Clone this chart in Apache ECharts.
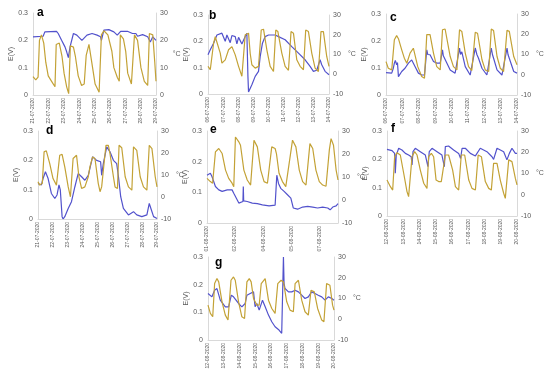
<!DOCTYPE html>
<html><head><meta charset="utf-8">
<script src="https://cdn.jsdelivr.net/npm/echarts@6/dist/echarts.min.js"></script>
<style>html,body{margin:0;padding:0;background:#fff}#c{width:550px;height:372px}</style>
</head><body><div id="c"></div>
<script>
// ---- tick labels ----
const aTicks = ['21-07-2020','22-07-2020','23-07-2020','24-07-2020','25-07-2020','26-07-2020','27-07-2020','28-07-2020','29-07-2020'];
const bTicks = ['06-07-2020','07-07-2020','08-07-2020','09-07-2020','10-07-2020','11-07-2020','12-07-2020','13-07-2020','14-07-2020'];
const cTicks = bTicks.slice();
const dTicks = aTicks.slice();
const eTicks = ['01-08-2020','02-08-2020','04-08-2020','05-08-2020','07-08-2020'];
const fTicks = ['12-08-2020','13-08-2020','14-08-2020','15-08-2020','16-08-2020','17-08-2020','18-08-2020','19-08-2020','20-08-2020'];
const gTicks = fTicks.slice();

// ---- series: [day, value] ----
const aVolt = [[0,0.213],[0.66,0.215],[0.77,0.231],[1.53,0.233],[1.64,0.225],[1.86,0.200],[2.08,0.176],[2.19,0.158],[2.30,0.137],[2.41,0.176],[2.63,0.225],[2.85,0.219],[3.18,0.200],[3.51,0.219],[3.84,0.225],[4.17,0.219],[4.39,0.213],[4.45,0.200],[4.61,0.237],[4.93,0.239],[5.26,0.231],[5.48,0.219],[5.59,0.219],[5.70,0.233],[6.14,0.233],[6.47,0.225],[6.69,0.225],[6.80,0.215],[7.13,0.221],[7.46,0.213],[7.63,0.194],[7.79,0.213],[8,0.200]];
const aTemp = [[0,6.7],[0.18,5.5],[0.33,6.5],[0.42,20],[0.55,22],[0.70,19],[0.83,12],[0.99,7],[1.21,5],[1.43,3],[1.51,18.5],[1.71,19],[1.89,14],[2.02,8],[2.19,3],[2.32,0.5],[2.43,18],[2.63,17.5],[2.76,14],[2.94,7],[3.16,3.5],[3.33,4],[3.46,14.5],[3.64,18.5],[3.82,12],[4.04,4],[4.30,1],[4.45,22],[4.61,23.5],[4.87,22],[5.13,16],[5.26,10],[5.48,6.5],[5.61,5],[5.68,22],[5.88,20.5],[6.03,16],[6.16,8],[6.40,4],[6.51,3.5],[6.60,22],[6.80,20],[7.02,10],[7.24,5],[7.46,3.5],[7.57,22.5],[7.79,22],[7.92,12],[8,5]];

const bVolt = [[0,0.149],[0.15,0.168],[0.37,0.193],[0.59,0.224],[0.92,0.231],[1.14,0.200],[1.25,0.224],[1.47,0.195],[1.58,0.222],[1.80,0.218],[1.91,0.190],[2.02,0.215],[2.13,0.212],[2.24,0.190],[2.46,0.218],[2.57,0.231],[2.64,0.067],[2.68,0.008],[2.90,0.035],[3.12,0.067],[3.34,0.086],[3.45,0.142],[3.60,0.193],[3.78,0.218],[4.0,0.224],[4.44,0.224],[4.66,0.218],[5.10,0.206],[5.54,0.180],[5.98,0.155],[6.42,0.130],[6.75,0.105],[6.97,0.086],[7.19,0.090],[7.41,0.130],[7.52,0.111],[7.74,0.086],[8,0.073]];
const bTemp = [[0,4],[0.15,2.3],[0.26,1.4],[0.37,15.7],[0.48,19],[0.59,20],[0.81,10.7],[0.92,5.6],[1.14,7.3],[1.36,12.4],[1.58,14],[1.80,9.8],[2.02,4],[2.24,-1],[2.35,-1.4],[2.46,20],[2.68,20.8],[2.79,10.5],[2.90,4.8],[3.12,3.1],[3.34,4],[3.52,22.4],[3.67,22.8],[3.89,12.4],[4.11,4],[4.33,1.4],[4.48,22.4],[4.62,21.6],[4.88,10.7],[5.10,4],[5.32,2],[5.49,21.6],[5.65,20.8],[5.87,7.3],[6.09,4],[6.31,2.3],[6.46,22.4],[6.64,21.6],[6.86,10.7],[7.08,3.1],[7.30,1.4],[7.47,21.6],[7.63,21.6],[7.85,9],[8,4]];

const cVolt = [[0,0.083],[0.35,0.081],[0.45,0.100],[0.51,0.118],[0.57,0.128],[0.65,0.112],[0.70,0.120],[0.76,0.068],[0.96,0.087],[1.16,0.099],[1.37,0.118],[1.57,0.130],[1.78,0.105],[1.98,0.081],[2.18,0.074],[2.35,0.074],[2.49,0.167],[2.55,0.150],[2.69,0.149],[2.90,0.124],[3.10,0.118],[3.31,0.118],[3.45,0.167],[3.50,0.145],[3.61,0.143],[3.92,0.093],[4.22,0.081],[4.49,0.174],[4.55,0.150],[4.63,0.160],[4.84,0.105],[5.14,0.074],[5.45,0.174],[5.55,0.150],[5.65,0.136],[5.86,0.099],[6.16,0.074],[6.43,0.174],[6.50,0.150],[6.57,0.136],[6.78,0.093],[7.08,0.074],[7.39,0.174],[7.45,0.150],[7.53,0.143],[7.80,0.087],[8,0.081]];
const cTemp = [[0,6.5],[0.14,3.2],[0.35,2.4],[0.51,17.3],[0.65,19.3],[0.76,17.8],[0.96,12.3],[1.12,8.2],[1.27,5.7],[1.47,10.7],[1.67,13.1],[1.78,12.3],[1.94,4],[2.18,-0.9],[2.35,-1.7],[2.49,19.8],[2.69,19.8],[2.90,10.7],[3.10,4],[3.31,2.4],[3.45,22.2],[3.61,22.6],[3.92,9],[4.12,4],[4.33,2.4],[4.49,22.2],[4.63,21.4],[4.84,10.7],[5.04,4],[5.24,2.1],[5.45,20.9],[5.59,20.5],[5.86,7.4],[6.06,2.4],[6.27,1.6],[6.43,22.6],[6.57,21.8],[6.78,9],[6.98,3.2],[7.18,1.6],[7.39,21.9],[7.53,21.4],[7.80,9],[8,4.9]];

const dVolt = [[0,0.121],[0.23,0.116],[0.34,0.138],[0.50,0.161],[0.68,0.138],[0.90,0.087],[1.13,0.070],[1.28,0.082],[1.41,0.116],[1.50,0.099],[1.62,0.008],[1.69,0.0],[1.80,0.008],[2.03,0.036],[2.25,0.059],[2.48,0.110],[2.70,0.155],[2.93,0.144],[3.15,0.132],[3.38,0.149],[3.67,0.212],[3.94,0.200],[4.21,0.195],[4.28,0.149],[4.39,0.189],[4.62,0.246],[4.84,0.229],[5.07,0.200],[5.29,0.189],[5.41,0.144],[5.56,0.076],[5.74,0.036],[6.08,0.014],[6.42,0.025],[6.64,0.014],[6.98,0.008],[7.32,0.014],[7.48,0.053],[7.59,0.036],[7.77,0.008],[8,0.002]];
const dTemp = [[0,6.9],[0.11,5.4],[0.29,6.2],[0.41,20.5],[0.56,21],[0.79,15.2],[1.01,8.4],[1.24,5.4],[1.35,6.2],[1.46,19],[1.62,19.4],[1.80,13.7],[2.03,4.6],[2.18,0.1],[2.36,17.5],[2.59,19],[2.75,9.2],[2.93,3.9],[3.15,4.6],[3.38,9.2],[3.49,13.7],[3.67,18.2],[3.83,17.5],[4.05,6.2],[4.17,2.4],[4.28,4.6],[4.44,15.2],[4.57,23.5],[4.73,23.5],[4.84,19.7],[5.07,9.2],[5.18,4.6],[5.34,3.9],[5.45,23.5],[5.63,22.4],[5.86,9.2],[6.08,4.6],[6.31,3.1],[6.42,22.8],[6.64,21.2],[6.87,9.2],[7.09,4.6],[7.32,3.1],[7.48,23.5],[7.66,22],[7.88,9.2],[8,4.6]];

const eVolt = [[0,0.156],[0.18,0.162],[0.27,0.151],[0.45,0.119],[0.63,0.108],[0.81,0.103],[1.08,0.108],[1.34,0.108],[1.43,0.097],[1.61,0.076],[1.70,0.065],[1.79,0.070],[1.92,0.070],[1.94,0.119],[1.96,0.072],[2.15,0.070],[2.42,0.065],[2.69,0.063],[2.96,0.059],[3.32,0.056],[3.64,0.058],[3.71,0.058],[3.73,0.156],[3.82,0.129],[3.94,0.113],[4.12,0.103],[4.30,0.092],[4.48,0.081],[4.61,0.049],[4.84,0.045],[5.11,0.052],[5.38,0.054],[5.65,0.052],[5.91,0.049],[6.18,0.052],[6.45,0.049],[6.58,0.043],[6.72,0.052],[6.90,0.056],[7,0.063]];
const eTemp = [[0,9.4],[0.18,8],[0.30,7.3],[0.45,20.9],[0.63,22.4],[0.81,20.2],[0.99,13],[1.16,9.4],[1.34,7.3],[1.43,5.8],[1.52,27.4],[1.70,25.3],[1.79,23.8],[1.97,13],[2.15,8.7],[2.33,6.5],[2.51,26],[2.69,23.1],[2.87,13],[3.05,8],[3.23,7.3],[3.46,23.1],[3.64,22.4],[3.71,20.2],[3.85,11.6],[4.03,8],[4.21,5.8],[4.57,26],[4.75,23.1],[4.93,13],[5.11,8],[5.29,6.5],[5.50,24.5],[5.65,22.4],[5.82,13],[6.00,8],[6.18,6.5],[6.36,6],[6.54,22],[6.63,26.7],[6.76,23.8],[6.90,13],[7,8.7]];

const fVolt = [[0,0.235],[0.31,0.231],[0.47,0.221],[0.51,0.151],[0.57,0.215],[0.72,0.239],[0.92,0.233],[1.13,0.221],[1.33,0.215],[1.49,0.209],[1.54,0.180],[1.60,0.227],[1.74,0.239],[2.05,0.227],[2.36,0.215],[2.46,0.209],[2.52,0.174],[2.60,0.227],[2.77,0.239],[3.08,0.227],[3.38,0.215],[3.49,0.209],[3.53,0.174],[3.59,0.245],[3.79,0.247],[4.10,0.233],[4.41,0.221],[4.53,0.203],[4.62,0.239],[4.82,0.239],[5.13,0.221],[5.44,0.212],[5.54,0.207],[5.74,0.239],[5.85,0.245],[6.15,0.227],[6.46,0.209],[6.56,0.200],[6.77,0.239],[6.87,0.245],[7.18,0.227],[7.38,0.198],[7.53,0.221],[7.69,0.239],[7.90,0.221],[8,0.221]];
const fTemp = [[0,6.9],[0.21,3.8],[0.35,2.2],[0.47,17.9],[0.62,19.8],[0.82,18.7],[1.03,10],[1.23,1.5],[1.33,-0.9],[1.44,0],[1.54,17.9],[1.70,20.3],[1.85,18.7],[2.05,11.6],[2.26,5.4],[2.46,3],[2.56,17.9],[2.73,19.5],[2.87,17.9],[3.02,6.9],[3.18,6.2],[3.34,6.2],[3.59,18.7],[3.79,18.7],[4.04,11.6],[4.21,3.8],[4.41,2.2],[4.57,18.7],[4.78,18.7],[5.03,6.9],[5.23,3],[5.44,2.2],[5.61,18.7],[5.81,17.9],[6.05,6.2],[6.26,3],[6.42,2.2],[6.56,14.8],[6.77,14.8],[6.97,6.9],[7.18,0.7],[7.28,-1.7],[7.49,16.4],[7.69,15.6],[7.90,7.7],[8,4.6]];

const gVolt = [[0,0.168],[0.25,0.156],[0.42,0.180],[0.57,0.186],[0.78,0.144],[1.10,0.120],[1.31,0.120],[1.48,0.162],[1.62,0.156],[1.73,0.150],[1.94,0.132],[2.15,0.120],[2.36,0.132],[2.47,0.162],[2.68,0.168],[2.89,0.174],[2.99,0.120],[3.10,0.132],[3.25,0.108],[3.46,0.144],[3.63,0.120],[3.84,0.090],[4.05,0.066],[4.26,0.048],[4.51,0.036],[4.68,0.024],[4.75,0.018],[4.79,0.300],[4.83,0.204],[4.89,0.186],[5.11,0.174],[5.32,0.174],[5.53,0.180],[5.74,0.174],[5.95,0.162],[6.16,0.150],[6.37,0.156],[6.58,0.174],[6.79,0.168],[7.00,0.162],[7.22,0.156],[7.43,0.144],[7.64,0.156],[7.86,0.150],[8,0.144]];
const gTemp = [[0,6.8],[0.15,2.8],[0.30,1.2],[0.42,17.2],[0.57,19.6],[0.68,18],[0.89,8.4],[1.10,2],[1.27,-0.4],[1.46,18.8],[1.62,20.4],[1.73,18.8],[1.94,8.4],[2.15,1.2],[2.32,0.4],[2.47,18],[2.62,19.6],[2.74,18],[2.89,10],[3.10,6.8],[3.25,6.8],[3.38,17.2],[3.63,19.6],[3.84,9.2],[4.05,5.2],[4.26,2.8],[4.43,17.2],[4.64,18.8],[4.79,18],[5.00,8.4],[5.21,4.4],[5.42,3.6],[5.53,17.2],[5.74,18.8],[5.95,9.2],[6.16,3.6],[6.37,2],[6.54,14],[6.75,13.2],[6.96,5.2],[7.22,-0.4],[7.36,-1.2],[7.53,17.2],[7.74,16.4],[7.91,6.8],[8,4.4]];

// ---- layout ----
const panels = [
  {letter:'a', volt:aVolt, temp:aTemp, ticks:aTicks, box:[33,13,123,82], tmin:0,   xmax:8, xint:1,   lx:37, ly:7,   cgap:13},
  {letter:'b', volt:bVolt, temp:bTemp, ticks:bTicks, box:[208,15,121,79], tmin:-10, xmax:8, xint:1,   lx:209, ly:10, cgap:18},
  {letter:'c', volt:cVolt, temp:cTemp, ticks:cTicks, box:[386,14,131,81], tmin:-10, xmax:8, xint:1,   lx:390, ly:12, cgap:19},
  {letter:'d', volt:dVolt, temp:dTemp, ticks:dTicks, box:[38,131,119,88], tmin:-10, xmax:8, xint:1,   lx:46, ly:125, cgap:9},
  {letter:'e', volt:eVolt, temp:eTemp, ticks:eTicks, box:[207,131,131,92], tmin:-10, xmax:7, xint:1.5, lx:210, ly:124, cgap:15},
  {letter:'f', volt:fVolt, temp:fTemp, ticks:fTicks, box:[387,131,130,85], tmin:-10, xmax:8, xint:1,   lx:391, ly:123, cgap:15},
  {letter:'g', volt:gVolt, temp:gTemp, ticks:gTicks, box:[208,257,126,83], tmin:-10, xmax:8, xint:1,   lx:215, ly:257, cgap:14}
];

const FONT = 'Liberation Sans, Arial, sans-serif';
const lab = '#595959', axc = '#d9d9d9';
const BLUE = '#5252CC', TEMP = '#C3A236';

const grid = [], xAxis = [], yAxis = [], series = [], graphic = [];
panels.forEach((p, i) => {
  grid.push({left:p.box[0], top:p.box[1], width:p.box[2], height:p.box[3], containLabel:false});
  xAxis.push({
    type:'value', gridIndex:i, min:0, max:p.xmax, interval:p.xint,
    axisLine:{show:true, lineStyle:{color:axc}}, axisTick:{show:false}, splitLine:{show:false},
    axisLabel:{rotate:90, fontSize:5, color:lab, fontFamily:FONT, margin:3, showMaxLabel: p.xmax % p.xint === 0,
      formatter: v => { const k = Math.round(v / p.xint); return p.ticks[k] || ''; }}
  });
  yAxis.push({
    type:'value', gridIndex:i, min:0, max:0.3, interval:0.1, position:'left',
    name:'E(V)', nameLocation:'middle', nameRotate:90, nameGap:17,
    nameTextStyle:{fontSize:7, color:lab, fontFamily:FONT},
    axisLine:{show:true, lineStyle:{color:axc}}, axisTick:{show:false}, splitLine:{show:false},
    axisLabel:{fontSize:7, color:lab, fontFamily:FONT, margin:5, formatter: v => (Math.round(v*10)/10).toString()}
  });
  yAxis.push({
    type:'value', gridIndex:i, min:p.tmin, max:30, interval:10, position:'right',
    name:'°C', nameLocation:'middle', nameRotate:0, nameGap:p.cgap,
    nameTextStyle:{fontSize:7, color:lab, fontFamily:FONT},
    axisLine:{show:true, lineStyle:{color:axc}}, axisTick:{show:false}, splitLine:{show:false},
    axisLabel:{fontSize:7, color:lab, fontFamily:FONT, margin:4}
  });
  series.push({type:'line', xAxisIndex:i, yAxisIndex:2*i, data:p.volt, symbol:'none', z:2,
    lineStyle:{color:BLUE, width:1.2}, itemStyle:{color:BLUE}});
  series.push({type:'line', xAxisIndex:i, yAxisIndex:2*i+1, data:p.temp, symbol:'none', z:3,
    lineStyle:{color:TEMP, width:1.2}, itemStyle:{color:TEMP}});
  graphic.push({type:'text', left:p.lx, top:p.ly,
    style:{text:p.letter, fontSize:12, fontWeight:'bold', fill:'#000', fontFamily:FONT}});
});

const chart = echarts.init(document.getElementById('c'), null, {renderer:'canvas'});
chart.setOption({backgroundColor:'#fff', animation:false, grid, xAxis, yAxis, series, graphic});
</script></body></html>
